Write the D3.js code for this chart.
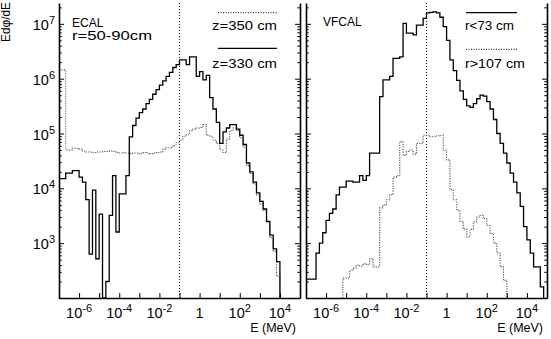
<!DOCTYPE html>
<html><head><meta charset="utf-8">
<script src="https://cdn.jsdelivr.net/npm/d3@7"></script>
<style>
body{margin:0;background:#fff}
svg{display:block}
text{font-family:"Liberation Sans",Arial,Helvetica,sans-serif;fill:#000}
</style>
</head><body>
<svg id="c" width="551" height="339"></svg>
<script>
// ---- data ----
const binsPerDecade = 6;          // histogram bins per decade of E
const logEmin = -7;               // first bin lower edge: 1e-7 MeV
const xTickValues = [1e-7,1e-6,1e-5,1e-4,1e-3,1e-2,1e-1,1,1e1,1e2,1e3,1e4,1e5];
const xLabelValues = [1e-6,1e-4,1e-2,1,1e2,1e4];
const xLabelBase = ["10","10","10","1","10","10"];
const xLabelExp  = ["-6","-4","-2","","2","4"];
const yLabelValues = [1e3,1e4,1e5,1e6,1e7];
const yLabelExp = ["3","4","5","6","7"];
const cutEnergy = 0.1; // MeV, vertical dotted line

// ECAL r=50-90cm, z=330 cm (solid)
const ecalZ330 = [1.5e4,1.5e4,1.9e4,1.9e4,2.1e4,2.1e4,1.6e4,1.3e4,6.2e3,630,
  9.3e3,520,3.4e3,null,200,3.2e3,1.7e4,1.6e3,7.9e3,7.9e3,
  1.7e4,8.7e4,1.4e5,1.9e5,2.4e5,2.8e5,3.5e5,4.2e5,5.2e5,6.3e5,
  7.6e5,9.1e5,1.1e6,1.3e6,1.6e6,1.8e6,2.2e6,2.2e6,1.8e6,2.5e6,
  2.5e6,1.1e6,1.35e6,9.5e5,1.15e6,4.5e5,2.8e5,1.6e5,6.6e4,1.07e5,
  1.26e5,1.45e5,1.45e5,1.2e5,9.3e4,6.3e4,2.9e4,2.0e4,1.3e4,8.3e3,
  5.8e3,4.2e3,2.5e3,1.4e3,790,460];
// ECAL r=50-90cm, z=350 cm (dotted)
const ecalZ350 = [1.45e6,1.45e6,5.0e4,5.0e4,5.4e4,5.4e4,5.2e4,4.8e4,4.6e4,4.6e4,
  4.5e4,4.6e4,4.6e4,4.7e4,4.7e4,4.8e4,4.7e4,4.5e4,4.4e4,4.5e4,
  4.4e4,4.3e4,4.4e4,4.4e4,4.3e4,4.5e4,4.4e4,4.3e4,4.4e4,4.5e4,
  4.6e4,5.2e4,5.5e4,5.5e4,6.0e4,6.8e4,7.6e4,8.9e4,9.5e4,1.12e5,
  1.2e5,1.26e5,1.29e5,1.45e5,9.3e4,8.9e4,7.6e4,6.6e4,5.0e4,4.5e4,
  7.9e4,1.12e5,1.26e5,1.12e5,8.3e4,5.6e4,2.6e4,1.86e4,1.2e4,7.6e3,
  5.2e3,4.0e3,2.4e3,1.26e3,710,250];
// VFCAL r<73 cm (solid)
const vfcalInner = [220,220,220,660,1.0e3,1.55e3,2.6e3,3.5e3,4.2e3,7.6e3,
  1.05e4,1.05e4,1.35e4,1.35e4,1.3e4,1.3e4,1.7e4,1.4e4,1.7e4,4.4e4,
  4.4e4,4.4e4,4.7e5,9.5e5,9.5e5,1.1e6,2.35e6,2.35e6,2.5e6,1.02e7,
  6.8e6,6.8e6,6.3e6,9.5e6,9.5e6,1.26e7,1.58e7,1.62e7,1.66e7,1.58e7,
  1.32e7,8.9e6,5.0e6,2.2e6,1.4e6,9.3e5,6.0e5,4.2e5,3.2e5,3.0e5,
  3.5e5,4.3e5,5.0e5,4.8e5,3.8e5,2.8e5,1.8e5,1.0e5,6.6e4,4.4e4,
  2.9e4,1.9e4,1.3e4,8.3e3,4.7e3,2.0e3,1.15e3,660,370,370,160];
// VFCAL r>107 cm (dotted)
const vfcalOuter = [null,null,null,null,null,null,null,null,null,null,
  null,230,230,320,350,400,380,420,400,520,
  370,370,4.4e3,5.0e3,6.2e3,7.6e3,1.6e4,1.7e4,7.1e4,4.0e4,
  4.7e4,5.0e4,4.2e4,6.6e4,6.6e4,9.3e4,9.3e4,8.7e4,8.7e4,9.1e4,
  9.3e4,5.0e4,3.3e4,9.5e3,6.2e3,4.0e3,2.5e3,1.8e3,1.3e3,1.8e3,
  2.45e3,3.0e3,3.2e3,2.8e3,2.1e3,1.5e3,1.0e3,660,370,210];

// ---- drawing ----
const svg = d3.select("#c");
const yTop = 3, yBottom = 298;
const y = d3.scaleLog().domain([1e2, 2.4e7]).range([yBottom, yTop]);
const panels = [
  {x0:59, x1:300, solid:ecalZ330, dotted:ecalZ350, labels:true},
  {x0:306, x1:547, solid:vfcalInner, dotted:vfcalOuter, labels:false}
];
const edge = i => Math.pow(10, logEmin + i/binsPerDecade);

function stepPath(vals, x){
  let last = vals.length-1;
  while(last>=0 && vals[last]==null) last--;
  let d = "", started=false;
  for(let i=0;i<=last;i++){
    const v = vals[i];
    const yy = v==null ? yBottom : y(v);
    const xa = x(edge(i)), xb = x(edge(i+1));
    if(!started){
      if(v==null) continue;
      d += i>0 ? `M${xa},${yBottom}V${yy}` : `M${xa},${yy}`;
      started = true;
    } else d += `V${yy}`;
    d += `H${xb}`;
  }
  if(last < 72-1) d += `V${yBottom}`;
  return d;
}

panels.forEach((p,pi)=>{
  const x = d3.scaleLog().domain([1e-7,1e5]).range([p.x0,p.x1]);
  const g = svg.append("g");
  const cid = "clip"+pi;
  svg.append("clipPath").attr("id",cid).append("rect")
    .attr("x",p.x0).attr("y",0).attr("width",p.x1-p.x0).attr("height",yBottom);
  const plot = g.append("g").attr("clip-path",`url(#${cid})`);
  plot.append("line").attr("x1",x(cutEnergy)).attr("x2",x(cutEnergy))
    .attr("y1",yBottom).attr("y2",yTop).attr("stroke","#000")
    .attr("stroke-width",1).attr("stroke-dasharray","1,2");
  plot.append("path").attr("d",stepPath(p.dotted,x)).attr("fill","none")
    .attr("stroke","#555").attr("stroke-width",1.1).attr("stroke-dasharray","1.2,1.3");
  plot.append("path").attr("d",stepPath(p.solid,x)).attr("fill","none")
    .attr("stroke","#000").attr("stroke-width",1.3);

  const minorY = [];
  for(let e=2;e<=7;e++) for(let m=2;m<=9;m++){ const v=m*Math.pow(10,e); if(v<=2.4e7) minorY.push(v); }
  const majorY = [1e2,1e3,1e4,1e5,1e6,1e7];
  const addY = (pos, axisFn, size) => {
    const a = g.append("g").attr("transform",`translate(${pos},0)`)
      .call(axisFn(y).tickValues(minorY).tickSize(size*0.55).tickSizeOuter(0).tickFormat(""));
    a.select(".domain").remove();
    const b = g.append("g").attr("transform",`translate(${pos},0)`)
      .call(axisFn(y).tickValues(majorY).tickSize(size).tickSizeOuter(0).tickFormat(""));
    b.select(".domain").attr("stroke-width",1.6);
    return b;
  };
  addY(p.x0, d3.axisLeft, -5);
  addY(p.x1, d3.axisRight, -5);
  const xb = g.append("g").attr("transform",`translate(0,${yBottom})`)
    .call(d3.axisBottom(x).tickValues(xTickValues).tickSize(-5).tickSizeOuter(0).tickFormat(""));
  xb.select(".domain").attr("stroke-width",1.6);

  xLabelValues.forEach((v,i)=>{
    const t = g.append("text").attr("x",x(v)).attr("y",318).attr("text-anchor","middle")
      .attr("font-size",14.5);
    t.append("tspan").text(xLabelBase[i]);
    if(xLabelExp[i]) t.append("tspan").attr("dy",-6).attr("font-size",11).text(xLabelExp[i]);
  });
  g.append("text").attr("x",p.x1-4).attr("y",332).attr("text-anchor","end")
    .attr("font-size",12.5).text("E (MeV)");

  if(p.labels){
    yLabelValues.forEach((v,i)=>{
      const t = g.append("text").attr("x",55).attr("y",y(v)+6).attr("text-anchor","end").attr("font-size",14.5);
      t.append("tspan").text("10");
      t.append("tspan").attr("dy",-6).attr("font-size",11).text(yLabelExp[i]);
    });
  }
});
svg.selectAll(".tick line").attr("stroke-width",1);

svg.append("text").attr("transform","translate(10,42) rotate(-90)")
  .attr("font-size",12.5).attr("textLength",40).attr("lengthAdjust","spacingAndGlyphs").text("Edφ/dE");

svg.append("text").attr("x",72).attr("y",27).attr("font-size",12).text("ECAL");
svg.append("text").attr("x",72).attr("y",40).attr("font-size",12)
  .attr("textLength",80).attr("lengthAdjust","spacingAndGlyphs").text("r=50-90cm");
svg.append("text").attr("x",323).attr("y",26).attr("font-size",12).text("VFCAL");

const legend = [
  {x1:218,x2:277,ly:12.7,dash:"1,1.5",tx:212,ty:30,text:"z=350 cm",tl:65},
  {x1:218,x2:277,ly:48.3,dash:null,tx:212,ty:68,text:"z=330 cm",tl:65},
  {x1:466,x2:517,ly:12.7,dash:null,tx:465,ty:30,text:"r<73 cm",tl:49},
  {x1:466,x2:517,ly:49.3,dash:"1,1.5",tx:465,ty:68,text:"r>107 cm",tl:60}
];
legend.forEach(l=>{
  svg.append("line").attr("x1",l.x1).attr("x2",l.x2).attr("y1",l.ly).attr("y2",l.ly)
    .attr("stroke","#000").attr("stroke-width",l.dash?1:1.3).attr("stroke-dasharray",l.dash);
  svg.append("text").attr("x",l.tx).attr("y",l.ty).attr("font-size",12)
    .attr("textLength",l.tl).attr("lengthAdjust","spacingAndGlyphs").text(l.text);
});
</script>
</body></html>
